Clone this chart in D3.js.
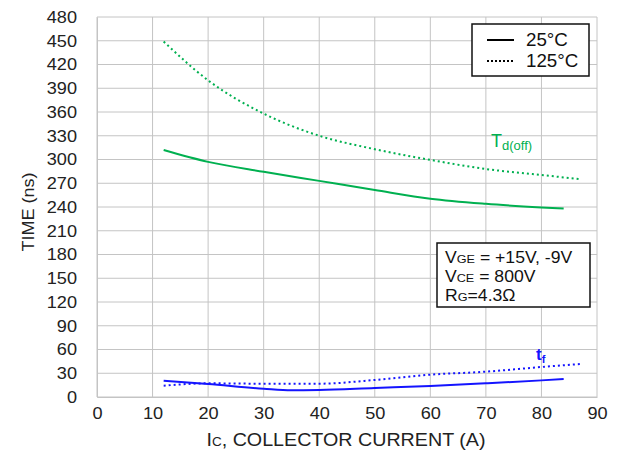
<!DOCTYPE html>
<html><head><meta charset="utf-8">
<script src="https://cdn.jsdelivr.net/npm/d3@7"></script>
<style>body{margin:0;background:#fff}svg{display:block;font-family:"Liberation Sans",Arial,sans-serif}</style>
</head><body><svg id="c" width="621" height="450"></svg>
<script>
const xTicks = [0,10,20,30,40,50,60,70,80,90];
const yTicks = [0,30,60,90,120,150,180,210,240,270,300,330,360,390,420,450,480];
const tdoff25X = [12,20,30,40,50,60,70,80,84];
const tdoff25Y = [312,297,284.5,273,261.5,250.5,244,239.5,238];
const tdoff125X = [12,20,30,40,50,60,70,80,87];
const tdoff125Y = [449,400,358,330,313,299.5,288,280.5,275];
const tf25X = [12,20,30,35,40,50,60,70,80,84];
const tf25Y = [20.6,16.4,10.5,8.5,8.8,11.4,13.9,17.3,21,22.7];
const tf125X = [12,20,30,40,50,60,70,80,87];
const tf125Y = [14.3,17.3,16.8,16.8,21.5,28.2,32,37.9,41.7];

const svg = d3.select("#c");
const L=97,R=597,T=17,B=397;
const x = d3.scaleLinear().domain([0,90]).range([L,R]);
const y = d3.scaleLinear().domain([0,480]).range([B,T]);
const green="#00b050", blue="#1414ff";

function stretch(sel,k){
  sel.each(function(){
    const len=this.getComputedTextLength();
    d3.select(this).attr("textLength",len*k).attr("lengthAdjust","spacingAndGlyphs");
  });
}

// grid
svg.append("g").selectAll("line").data(yTicks).join("line")
  .attr("x1",L).attr("x2",R).attr("y1",d=>y(d)).attr("y2",d=>y(d))
  .attr("stroke","#c4c4c4").attr("stroke-width",1);
svg.append("g").selectAll("line").data(xTicks).join("line")
  .attr("x1",d=>x(d)).attr("x2",d=>x(d)).attr("y1",T).attr("y2",B)
  .attr("stroke","#c4c4c4").attr("stroke-width",1);

// axes
const ax = svg.append("g").attr("transform",`translate(0,${B})`)
  .call(d3.axisBottom(x).tickValues(xTicks).tickSize(0).tickPadding(10));
ax.select(".domain").attr("stroke","#c4c4c4");
ax.selectAll("text").attr("font-size",16.5).attr("fill","#222").attr("font-family","Liberation Sans, Arial, sans-serif");
stretch(ax.selectAll("text"),1.1);
const ay = svg.append("g").attr("transform",`translate(${L},0)`)
  .call(d3.axisLeft(y).tickValues(yTicks).tickSize(0).tickPadding(20));
ay.select(".domain").attr("stroke","#c4c4c4");
ay.selectAll("text").attr("font-size",16.5).attr("fill","#222").attr("font-family","Liberation Sans, Arial, sans-serif");
stretch(ay.selectAll("text"),1.1);

// axis titles
const xt = svg.append("text").attr("x",346).attr("y",446).attr("text-anchor","middle")
  .attr("font-size",17.5).attr("fill","#222");
xt.append("tspan").text("I");
xt.append("tspan").attr("font-size",12).text("C");
xt.append("tspan").text(", COLLECTOR CURRENT (A)");
xt.attr("textLength",279).attr("lengthAdjust","spacingAndGlyphs");
const yt = svg.append("text").attr("transform","translate(34,212) rotate(-90)").attr("text-anchor","middle")
  .attr("font-size",17).attr("fill","#222").text("TIME (ns)");
stretch(yt,1.06);

// lines
const line = (xs,ys)=>d3.line().x((d,i)=>x(xs[i])).y(d=>y(d)).curve(d3.curveMonotoneX)(ys);
svg.append("path").attr("d",line(tdoff125X,tdoff125Y)).attr("fill","none").attr("stroke",green).attr("stroke-width",2).attr("stroke-dasharray","2,3");
svg.append("path").attr("d",line(tdoff25X,tdoff25Y)).attr("fill","none").attr("stroke",green).attr("stroke-width",2);
svg.append("path").attr("d",line(tf125X,tf125Y)).attr("fill","none").attr("stroke",blue).attr("stroke-width",2).attr("stroke-dasharray","2,3");
svg.append("path").attr("d",line(tf25X,tf25Y)).attr("fill","none").attr("stroke",blue).attr("stroke-width",2);

// curve labels
const tl = svg.append("text").attr("x",491).attr("y",147).attr("fill",green).attr("font-size",18);
tl.append("tspan").text("T");
tl.append("tspan").attr("font-size",13).attr("dy",3).text("d(off)");
const fl = svg.append("text").attr("x",536).attr("y",360).attr("fill",blue).attr("font-size",17).attr("font-weight","bold");
fl.append("tspan").text("t");
fl.append("tspan").attr("font-size",11).attr("dy",3).text("f");

// legend
svg.append("rect").attr("x",472).attr("y",24).attr("width",117).attr("height",52)
  .attr("fill","#fff").attr("stroke","#111").attr("stroke-width",1.5);
svg.append("line").attr("x1",487).attr("x2",514).attr("y1",40).attr("y2",40).attr("stroke","#000").attr("stroke-width",2);
svg.append("line").attr("x1",487).attr("x2",514).attr("y1",61).attr("y2",61).attr("stroke","#000").attr("stroke-width",2).attr("stroke-dasharray","2,2");
stretch(svg.append("text").attr("x",526).attr("y",46).attr("font-size",17.5).attr("fill","#111").text("25°C"),1.07);
stretch(svg.append("text").attr("x",526).attr("y",67).attr("font-size",17.5).attr("fill","#111").text("125°C"),1.07);

// conditions box
svg.append("rect").attr("x",437).attr("y",243).attr("width",153).attr("height",64)
  .attr("fill","#fff").attr("stroke","#111").attr("stroke-width",1.5);
const c1 = svg.append("text").attr("x",445).attr("y",263).attr("font-size",16).attr("fill","#111");
c1.append("tspan").text("V"); c1.append("tspan").attr("font-size",11.5).text("GE"); c1.append("tspan").text(" = +15V, -9V");
const c2 = svg.append("text").attr("x",445).attr("y",282).attr("font-size",16).attr("fill","#111");
c2.append("tspan").text("V"); c2.append("tspan").attr("font-size",11.5).text("CE"); c2.append("tspan").text(" = 800V");
const c3 = svg.append("text").attr("x",445).attr("y",301).attr("font-size",16).attr("fill","#111");
c3.append("tspan").text("R"); c3.append("tspan").attr("font-size",11.5).text("G"); c3.append("tspan").text("=4.3Ω");
stretch(d3.selectAll([c1.node(),c2.node(),c3.node()]),1.1);
</script></body></html>
